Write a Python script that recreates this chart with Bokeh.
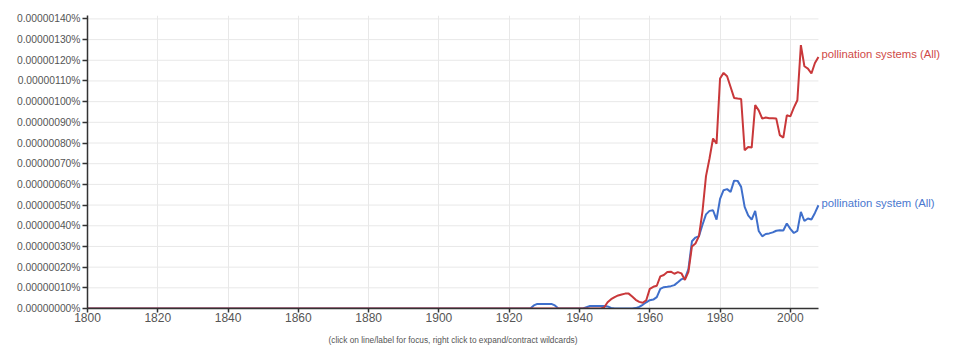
from bokeh.plotting import figure
from bokeh.models import (FixedTicker, CustomJSTickFormatter, Label, Title, Range1d)
from bokeh.embed import file_html
from bokeh.resources import INLINE

# ---- data (values in units of 1e-7 percent) ----
years = [1800] + list(range(1920, 2009))

# pollination system (All) -- blue, 1920..2008
system_e7 = [0] + [
    0, 0, 0, 0, 0, 0, 0, 0.15, 0.22, 0.22,          # 1920-1929
    0.22, 0.22, 0.22, 0.15, 0, 0, 0, 0, 0, 0,       # 1930-1939
    0, 0, 0.06, 0.12, 0.12, 0.12, 0.12, 0.12, 0.10, 0.03,  # 1940-1949
    0, 0, 0, 0, 0, 0, 0.02, 0.08, 0.18, 0.30,       # 1950-1959
    0.40, 0.43, 0.55, 0.95, 1.03, 1.05, 1.08, 1.13, 1.27, 1.42,  # 1960-1969
    1.45, 1.90, 3.25, 3.43, 3.50, 4.05, 4.55, 4.72, 4.75, 4.30,  # 1970-1979
    5.30, 5.72, 5.77, 5.64, 6.18, 6.17, 5.88, 4.91, 4.50, 4.30,  # 1980-1989
    4.72, 3.75, 3.49, 3.60, 3.63, 3.68, 3.76, 3.78, 3.77, 4.11,  # 1990-1999
    3.85, 3.65, 3.75, 4.67, 4.23, 4.35, 4.30, 4.62, 4.99,        # 2000-2008
]

# pollination systems (All) -- red, 1920..2008
systems_e7 = [0] + [
    0, 0, 0, 0, 0, 0, 0, 0, 0, 0,                   # 1920-1929
    0, 0, 0, 0, 0, 0, 0, 0, 0, 0,                   # 1930-1939
    0, 0, 0, 0, 0, 0, 0, 0.05, 0.30, 0.45,          # 1940-1949
    0.55, 0.63, 0.68, 0.72, 0.72, 0.58, 0.42, 0.32, 0.28, 0.40,  # 1950-1959
    0.95, 1.05, 1.10, 1.55, 1.62, 1.76, 1.78, 1.68, 1.76, 1.70,  # 1960-1969
    1.38, 1.77, 3.00, 3.14, 3.50, 4.70, 6.40, 7.25, 8.22, 7.97,  # 1970-1979
    11.12, 11.39, 11.23, 10.71, 10.18, 10.15, 10.13, 7.65, 7.81, 7.78,  # 1980-1989
    9.83, 9.58, 9.18, 9.23, 9.20, 9.20, 9.18, 8.38, 8.26, 9.34,  # 1990-1999
    9.29, 9.71, 10.07, 12.73, 11.71, 11.60, 11.36, 11.87, 12.16,  # 2000-2008
]

series_names = ["pollination system (All)", "pollination systems (All)"]
x_ticks = [1800, 1820, 1840, 1860, 1880, 1900, 1920, 1940, 1960, 1980, 2000]
y_ticks = [0.0, 0.0000001, 0.0000002, 0.0000003, 0.0000004, 0.0000005, 0.0000006,
           0.0000007, 0.0000008, 0.0000009, 0.0000010, 0.0000011, 0.0000012,
           0.0000013, 0.0000014]
caption = "(click on line/label for focus, right click to expand/contract wildcards)"

system = [v * 1e-7 for v in system_e7]
systems = [v * 1e-7 for v in systems_e7]

BLUE = "#3f6fcb"
RED = "#c9383a"
BLUE_TXT = "#4a78cf"
RED_TXT = "#cf4a48"
FONT = "Liberation Sans"
X_END = 2008          # last year of the axis
X_VIEW_END = 2047     # extra room on the right for the series labels

p = figure(width=960, height=354, output_backend="svg", toolbar_location=None,
           x_range=Range1d(1800, X_VIEW_END), y_range=Range1d(0, 1.4165e-6),
           min_border_left=87, min_border_right=5, min_border_top=15,
           min_border_bottom=46)
p.outline_line_color = None
p.background_fill_color = "white"
p.border_fill_color = "white"

# horizontal grid lines only as far as the axis goes
p.ygrid.grid_line_color = None
p.segment(x0=[x_ticks[0]] * len(y_ticks), y0=y_ticks,
          x1=[X_END] * len(y_ticks), y1=y_ticks,
          line_color="#e8e8e8", line_width=1, level="underlay")
p.xgrid.grid_line_color = "#e8e8e8"
p.xgrid.grid_line_width = 1

p.line(years, system, line_color=BLUE, line_width=2)
p.line(years, systems, line_color=RED, line_width=2)

# axes
p.xaxis.ticker = FixedTicker(ticks=x_ticks)
p.xaxis.bounds = (x_ticks[0], X_END)
p.yaxis.ticker = FixedTicker(ticks=y_ticks)
p.yaxis.formatter = CustomJSTickFormatter(code="return tick.toFixed(8) + '%';")
for ax in (p.xaxis, p.yaxis):
    ax.axis_line_color = "#333333"
    ax.axis_line_width = 1.5
    ax.major_tick_line_color = "#333333"
    ax.major_tick_line_width = 1.5
    ax.major_tick_in = 0
    ax.minor_tick_line_color = None
    ax.major_label_text_font = FONT
    ax.major_label_text_color = "#555555"
p.xaxis.major_tick_out = 4
p.xaxis.major_label_standoff = 0
p.xaxis.major_label_text_font_size = "12px"
p.yaxis.major_tick_out = 5
p.yaxis.major_label_standoff = 2
p.yaxis.major_label_text_font_size = "10.3px"

# end labels
p.add_layout(Label(x=years[-1], y=systems[-1], text=series_names[1], x_offset=3,
                   y_offset=3, text_baseline="middle", text_font=FONT,
                   text_font_size="11.3px", text_color=RED_TXT))
p.add_layout(Label(x=years[-1], y=system[-1], text=series_names[0], x_offset=3,
                   y_offset=2, text_baseline="middle", text_font=FONT,
                   text_font_size="11.3px", text_color=BLUE_TXT))

# spacer, then caption
p.add_layout(Title(text=" ", text_font=FONT, text_font_size="5px",
                   standoff=0), "below")
p.add_layout(Title(text=caption, align="left", offset=241, standoff=0,
                   text_font=FONT, text_font_size="8.3px",
                   text_font_style="normal", text_color="#555555"), "below")

open("out.html", "w").write(file_html(p, INLINE))
